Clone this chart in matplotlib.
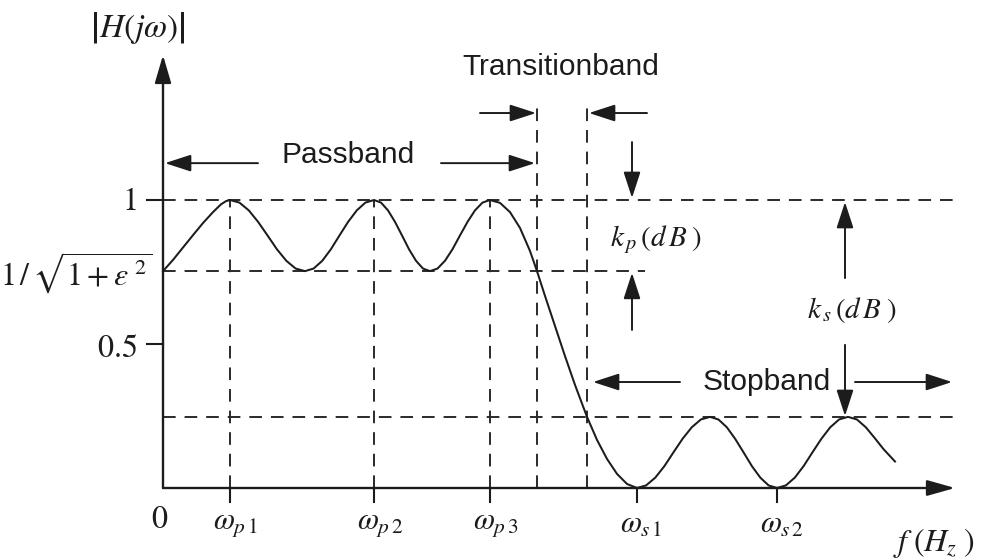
import matplotlib
matplotlib.use("Agg")
import matplotlib.pyplot as plt

plt.rcParams['mathtext.fontset'] = 'stix'

# ---- data (x: frequency units, y: |H(jw)|) ----
curve_x = [0, 10, 20, 30, 40, 50, 58, 63, 67,
           76.4, 85.8, 95.1, 104.5, 113.9, 123.3, 132.6, 142,
           150.6, 159.3, 167.9, 176.5, 185.1, 193.8, 202.4, 211,
           218, 225, 232, 239, 246, 253, 260, 267,
           274.5, 282, 289.5, 297, 304.5, 312, 319.5, 327,
           337, 347, 357, 367, 374, 382, 392, 402, 412, 424, 434, 444, 454, 464, 474,
           483.1, 492.3, 501.4, 510.5, 519.6, 528.8, 537.9, 547,
           555.4, 563.8, 572.1, 580.5, 588.9, 597.3, 605.6, 614,
           622.9, 631.8, 640.6, 649.5, 658.4, 667.3, 676.1, 685,
           693.9, 702.8, 711.6, 720.5, 732]
curve_y = [0.753, 0.792, 0.835, 0.878, 0.92, 0.958, 0.985, 0.996, 1.0,
           0.991, 0.964, 0.924, 0.877, 0.829, 0.789, 0.762, 0.753,
           0.762, 0.789, 0.829, 0.877, 0.924, 0.964, 0.991, 1.0,
           0.991, 0.964, 0.924, 0.877, 0.829, 0.789, 0.762, 0.753,
           0.762, 0.789, 0.829, 0.877, 0.924, 0.964, 0.991, 1.0,
           0.990, 0.958, 0.903, 0.823, 0.753, 0.667, 0.5625, 0.458, 0.358, 0.247, 0.167, 0.101, 0.049, 0.014, 0.0,
           0.009, 0.036, 0.076, 0.124, 0.171, 0.211, 0.238, 0.247,
           0.238, 0.211, 0.171, 0.124, 0.076, 0.036, 0.009, 0.0,
           0.009, 0.036, 0.076, 0.124, 0.171, 0.211, 0.238, 0.247,
           0.238, 0.211, 0.174, 0.135, 0.092]

pass_freqs = [67, 211, 327]          # w_p1, w_p2, w_p3
stop_freqs = [474, 614]              # w_s1, w_s2
trans_edges = [374, 424]             # transition band edges
pass_labels = [r'$\omega_{p\,1}$', r'$\omega_{p\,2}$', r'$\omega_{p\,3}$']
stop_labels = [r'$\omega_{s\,1}$', r'$\omega_{s\,2}$']
level_one = 1.0
level_ripple = 0.753
level_stop = 0.247
level_half = 0.5

C = '#1c1c1c'

fig = plt.figure(figsize=(9.85, 5.58), dpi=100)
ax = fig.add_axes([0, 0, 1, 1])
ax.set_xlim(-163, 822)
ax.set_ylim(-70 / 288, 488 / 288)
ax.axis('off')

DASH = dict(color='#2a2a2a', lw=1.4, dashes=(6.5, 4.6))


def arrow(x0, y0, x1, y1, lw=1.4, hl=0.8, hw=0.26):
    ax.annotate('', xy=(x1, y1), xytext=(x0, y0),
                arrowprops=dict(arrowstyle=f'-|>,head_length={hl},head_width={hw}',
                                mutation_scale=20, lw=lw, color=C,
                                shrinkA=0, shrinkB=0))


# axes with arrowheads
arrow(0, 0, 0, 1.503, lw=1.7, hl=0.85, hw=0.25)
arrow(0, 0, 792, 0, lw=1.7, hl=0.85, hw=0.24)

# dashed reference lines
ax.plot([0, 794], [level_one, level_one], **DASH)
ax.plot([0, 482], [level_ripple, level_ripple], **DASH)
ax.plot([0, 794], [level_stop, level_stop], **DASH)
for f in pass_freqs:
    ax.plot([f, f], [0, level_one], **DASH)
for f in trans_edges:
    ax.plot([f, f], [0, 1.347], **DASH)

# ticks
for f in pass_freqs + stop_freqs:
    ax.plot([f, f], [0, -0.05], color=C, lw=1.5)
for v in [level_one, level_half]:
    ax.plot([-16, 0], [v, v], color=C, lw=1.5)

# response curve
ax.plot(curve_x, curve_y, color=C, lw=1.45, solid_joinstyle='round')

# tick labels
MS = 23
for f, lab in zip(pass_freqs + stop_freqs, pass_labels + stop_labels):
    ax.text(f - 17, -0.128, lab, fontsize=22, ha='left', va='center', color=C)
ax.text(-3, -0.108, r'$0$', fontsize=MS, ha='center', va='center', color=C)
ax.text(-26, 0.995, r'$1$', fontsize=MS, ha='right', va='center', color=C)
ax.text(-26, 0.486, r'$0.5$', fontsize=MS, ha='right', va='center', color=C)
ax.text(-10, 0.745, r'$1\,/\,\sqrt{1+\varepsilon^{\;2}}$', fontsize=MS,
        ha='right', va='center', color=C)
ax.text(-25, 1.597, r'$\left|H\left(j\omega\right)\right|$', fontsize=24,
        ha='center', va='center', color=C)
ax.text(730, -0.19, r'$f\;(H_{z}\;)$', fontsize=MS, ha='left', va='center', color=C)
ax.text(447, 0.861, r'$k_{\,p}\,(d\,B\;)$', fontsize=21, ha='left', va='center', color=C)
ax.text(644, 0.618, r'$k_{\,s}\,(d\,B\;)$', fontsize=21, ha='left', va='center', color=C)

# band labels and arrows
SF = dict(family='Liberation Sans', fontsize=21.5, color=C)
ax.text(185, 1.128, 'Passband', ha='center', va='baseline', **SF)
arrow(95, 1.128, 2, 1.128)
arrow(278, 1.128, 372, 1.128)

ax.text(398, 1.434, 'Transitionband', ha='center', va='baseline', **SF)
arrow(317, 1.302, 373, 1.302)
arrow(484, 1.302, 426, 1.302)

ax.text(604, 0.340, 'Stopband', ha='center', va='baseline', **SF)
arrow(517, 0.368, 430, 0.368)
arrow(692, 0.368, 789, 0.368)

# k_p arrows
arrow(469, 1.201, 469, 1.007)
arrow(469, 0.549, 469, 0.747)
# k_s arrows
arrow(682, 0.729, 682, 0.993)
arrow(682, 0.497, 682, 0.250)

fig.savefig('out.png', dpi=100)
